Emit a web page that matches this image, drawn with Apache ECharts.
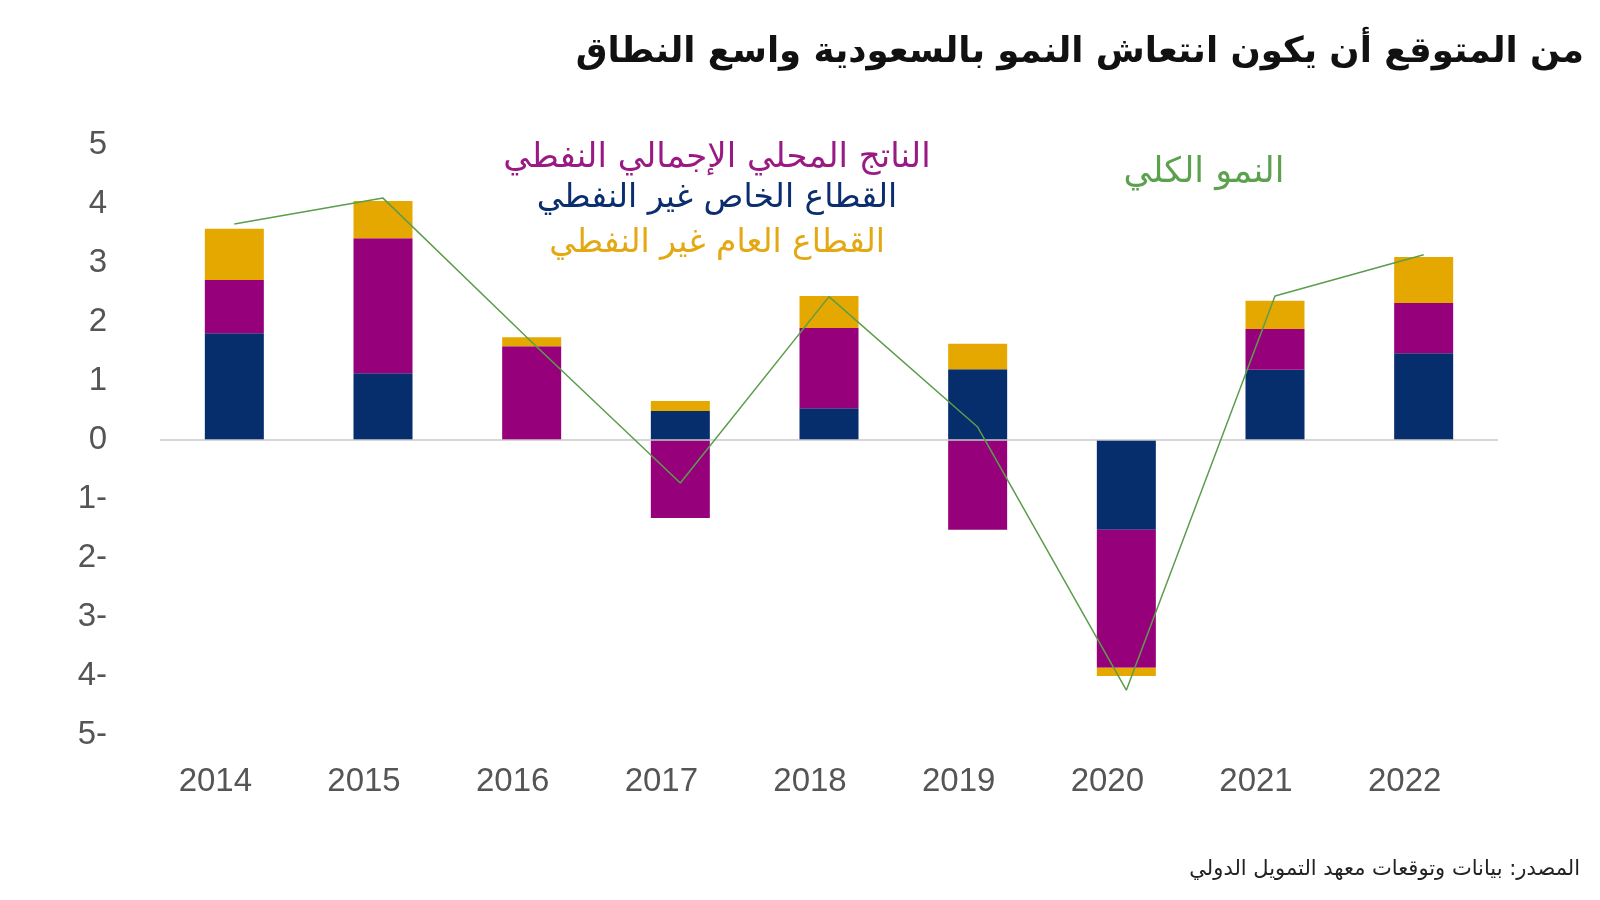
<!DOCTYPE html>
<html>
<head>
<meta charset="utf-8">
<script src="https://cdn.jsdelivr.net/npm/echarts@6/dist/echarts.min.js"></script>
<style>
html,body{margin:0;padding:0;background:#fff;}
#c{width:1600px;height:900px;}
</style>
</head>
<body>
<div id="c"></div>
<script>
const titleText = 'من المتوقع أن يكون انتعاش النمو بالسعودية واسع النطاق';
const sourceText = 'المصدر: بيانات وتوقعات معهد التمويل الدولي';
const years = ['2014','2015','2016','2017','2018','2019','2020','2021','2022'];
const seriesNames = ['القطاع الخاص غير النفطي','الناتج المحلي الإجمالي النفطي','القطاع العام غير النفطي','النمو الكلي'];
const privateNonOil = [1.81, 1.13, 0, 0.49, 0.54, 1.20, -1.52, 1.19, 1.47];
const oilGDP = [0.90, 2.29, 1.59, -1.32, 1.36, -1.52, -2.34, 0.69, 0.85];
const publicNonOil = [0.87, 0.63, 0.15, 0.17, 0.54, 0.43, -0.14, 0.48, 0.78];
const totalGrowth = [3.66, 4.10, 1.66, -0.73, 2.43, 0.22, -4.24, 2.44, 3.14];
const yTicks = [-5,-4,-3,-2,-1,0,1,2,3,4,5];

const colors = {navy:'#062d6c', purple:'#97007b', yellow:'#e5a800', green:'#5b9d4c'};
const arFont = '"DejaVu Sans", "Noto Sans", sans-serif';
const numFont = '"Liberation Sans", Arial, sans-serif';

const chart = echarts.init(document.getElementById('c'));
chart.setOption({
  animation:false,
  backgroundColor:'#fff',
  grid:{left:160, right:102, top:145, bottom:165},
  xAxis:{
    type:'category', data:years,
    axisLine:{show:false}, axisTick:{show:false},
    axisLabel:{color:'#555', fontSize:33, fontFamily:numFont, margin:30, padding:[0,38,0,0]}
  },
  yAxis:{
    type:'value', min:yTicks[0], max:yTicks[yTicks.length-1], interval:1,
    axisLine:{show:false}, axisTick:{show:false}, splitLine:{show:false},
    axisLabel:{color:'#555', fontSize:33, fontFamily:numFont, margin:53,
      formatter: v => v < 0 ? Math.abs(v) + '-' : String(v)}
  },
  series:[
    {name:seriesNames[0], type:'bar', stack:'s', data:privateNonOil, barWidth:59,
      itemStyle:{color:colors.navy},
      markLine:{silent:true, symbol:'none', label:{show:false},
        lineStyle:{color:'#c8c8c8', width:1.5, type:'solid'}, data:[{yAxis:0}]}},
    {name:seriesNames[1], type:'bar', stack:'s', data:oilGDP, barWidth:59, itemStyle:{color:colors.purple}},
    {name:seriesNames[2], type:'bar', stack:'s', data:publicNonOil, barWidth:59, itemStyle:{color:colors.yellow}},
    {name:seriesNames[3], type:'line', data:totalGrowth, symbol:'none', z:5,
      lineStyle:{color:colors.green, width:1.5}}
  ],
  graphic:[
    {type:'text', x:1584, y:53, style:{text:titleText, fill:'#111', font:'bold 35.5px '+arFont, textAlign:'right', textVerticalAlign:'middle'}},
    {type:'text', x:717, y:158, style:{text:seriesNames[1], fill:'#9a1a84', font:'34px '+arFont, textAlign:'center', textVerticalAlign:'middle'}},
    {type:'text', x:717, y:198, style:{text:seriesNames[0], fill:'#0b2e6e', font:'33px '+arFont, textAlign:'center', textVerticalAlign:'middle'}},
    {type:'text', x:717, y:243, style:{text:seriesNames[2], fill:'#e3a812', font:'33px '+arFont, textAlign:'center', textVerticalAlign:'middle'}},
    {type:'text', x:1204, y:173, style:{text:seriesNames[3], fill:'#5ca24e', font:'35px '+arFont, textAlign:'center', textVerticalAlign:'middle'}},
    {type:'text', x:1580, y:870, style:{text:sourceText, fill:'#222', font:'21px '+arFont, textAlign:'right', textVerticalAlign:'middle'}}
  ]
});
</script>
</body>
</html>
